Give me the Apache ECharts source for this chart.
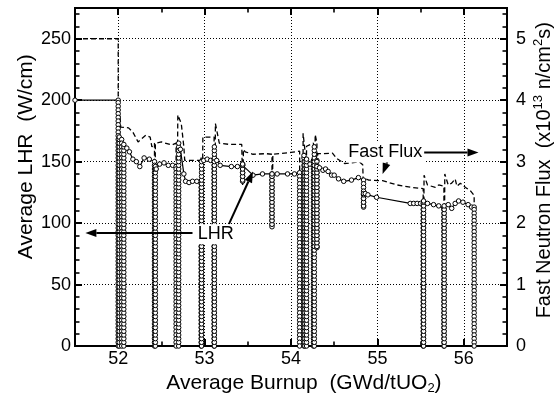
<!DOCTYPE html>
<html><head><meta charset="utf-8">
<script src="https://cdn.jsdelivr.net/npm/echarts@6/dist/echarts.min.js"></script>
<style>html,body{margin:0;padding:0;background:#fff}#c{width:554px;height:398px}</style>
</head><body><div id="c"></div>
<script>
// ---------------- DATA ----------------
const xTickValues = [52, 53, 54, 55, 56];
const lhrTickValues = [0, 50, 100, 150, 200, 250];
const fluxTickValues = [0, 1, 2, 3, 4, 5];

// LHR trace at power (burnup GWd/tUO2, LHR W/cm)
const traceBurnup = [51.50, 52.00, 52.04, 52.10, 52.13, 52.17, 52.21, 52.25, 52.30, 52.36, 52.42, 52.44, 52.48, 52.53, 52.58, 52.63, 52.67, 52.72, 52.76, 52.78, 52.82, 52.86, 52.91, 52.96, 52.99, 53.03, 53.07, 53.11, 53.14, 53.18, 53.31, 53.38, 53.44, 53.56, 53.67, 53.78, 53.84, 53.96, 54.04, 54.10, 54.16, 54.22, 54.26, 54.30, 54.33, 54.37, 54.40, 54.43, 54.47, 54.50, 54.55, 54.61, 54.70, 54.78, 54.84, 54.86, 54.89, 54.99, 55.38, 55.42, 55.46, 55.50, 55.53, 55.58, 55.65, 55.71, 55.77, 55.82, 55.86, 55.90, 55.94, 55.99, 56.05, 56.09, 56.12];
const traceLHR = [200, 200, 168, 161, 158, 152, 150, 146, 153, 152, 150, 144, 148, 149, 147, 147, 146, 160, 140, 134, 133, 134, 134, 132, 151, 152, 151, 152, 151, 147, 146, 146, 148, 139, 140, 140, 140, 140, 140, 141, 150, 148, 151, 151, 145, 143, 144, 142, 139, 139, 136, 134, 135, 137, 135, 124, 123, 121, 116, 116, 116, 116, 116, 116, 115, 114, 112, 115, 112, 116, 118, 117, 115, 113, 113];

// power ramps (shutdowns / reductions): burnup where LHR goes down, burnup where it comes back, lowest LHR, LHR reached on return
const stripDown = [52.00, 52.04, 52.42, 52.67, 52.96, 53.11, 53.44, 53.78, 54.10, 54.16, 54.26, 54.30, 54.84, 55.53, 55.77, 56.12];
const stripUp   = [52.012, 52.065, 52.43, 52.70, 52.965, 53.113, 53.44, 53.78, 54.15, 54.18, 54.27, 54.30, 54.84, 55.535, 55.773, null];
const stripLow  = [0, 0, 0, 0, 0, 0, 134, 97, 0, 0, 0, 80, 113, 0, 0, 0];
const stripBack = [170, 164, 146, 165, 150, 162, 148, 140, 155, 152, 162, 146, 124, 118, 114, null];
// LHR levels recorded during the ramps (W/cm)
const rampLevels = [0, 3, 6, 9, 12, 15, 18, 21, 24, 27, 30, 33, 36, 39, 42, 45, 48, 51, 54, 57, 60, 63, 66, 69, 72, 75, 78, 81, 84, 87, 90, 93, 96, 99, 102, 105, 108, 111, 114, 117, 120, 123, 126, 129, 132, 135, 138, 141, 144, 147, 150, 153, 156, 159, 162, 165, 168, 171, 174, 177, 180, 183, 186, 189, 192, 195, 198];

// Fast neutron flux (x10^13 n/cm2s)
const fluxBurnup = [51.50, 52.00, 52.00, 52.02, 52.02, 52.03, 52.12, 52.17, 52.23, 52.32, 52.37, 52.39, 52.42, 52.42, 52.43, 52.43, 52.50, 52.62, 52.67, 52.67, 52.69, 52.69, 52.73, 52.76, 52.77, 52.95, 52.96, 52.96, 52.97, 52.98, 53.06, 53.11, 53.11, 53.125, 53.125, 53.17, 53.29, 53.43, 53.44, 53.45, 53.47, 53.56, 53.71, 53.78, 53.78, 53.79, 54.00, 54.10, 54.10, 54.14, 54.14, 54.16, 54.17, 54.18, 54.26, 54.26, 54.28, 54.28, 54.30, 54.30, 54.31, 54.38, 54.48, 54.53, 54.62, 54.70, 54.79, 54.83, 54.84, 54.85, 54.90, 55.06, 55.23, 55.40, 55.53, 55.53, 55.54, 55.54, 55.58, 55.67, 55.71, 55.77, 55.77, 55.78, 55.78, 55.82, 55.86, 55.90, 55.92, 55.96, 56.02, 56.08, 56.12, 56.12];
const fluxValue = [5.00, 5.00, 0, 0, 3.76, 3.56, 3.55, 3.48, 3.32, 3.43, 3.40, 3.24, 3.30, 0, 0, 3.30, 3.32, 3.27, 3.30, 0, 0, 3.76, 3.62, 3.24, 3.02, 3.02, 3.08, 0, 0, 3.40, 3.40, 3.40, 0, 0, 3.62, 3.30, 3.28, 3.28, 2.62, 3.20, 3.16, 3.12, 3.13, 3.12, 2.00, 3.12, 3.15, 3.17, 0, 0, 3.46, 3.20, 0, 3.25, 3.30, 0, 0, 3.44, 3.30, 1.70, 3.13, 3.13, 3.14, 3.05, 2.97, 2.98, 3.00, 2.95, 2.50, 2.73, 2.70, 2.69, 2.62, 2.58, 2.56, 0, 0, 2.78, 2.62, 2.58, 2.62, 2.60, 0, 0, 2.80, 2.62, 2.65, 2.72, 2.60, 2.65, 2.58, 2.52, 2.45, 0];

// ---------------- BUILD SERIES ----------------
const lhrData = [];
for (let i = 0; i < traceBurnup.length; i++) {
  const b = traceBurnup[i], v = traceLHR[i];
  lhrData.push([b, v]);
  for (let k = 0; k < stripDown.length; k++) {
    if (stripDown[k] !== b) continue;
    const low = stripLow[k];
    rampLevels.filter(L => L < v && L > low).reverse().forEach(L => lhrData.push([b, L]));
    lhrData.push([b, low]);
    if (stripUp[k] == null) continue;
    const u = stripUp[k], back = stripBack[k];
    if (u !== b) lhrData.push([u, low]);
    rampLevels.filter(L => L > low && L < back).forEach(L => lhrData.push([u, L]));
    lhrData.push([u, back]);
  }
}
const fluxData = fluxBurnup.map((b, i) => [b, fluxValue[i]]);

// ---------------- OPTION ----------------
const FONT = '"Liberation Sans", Arial, Helvetica, sans-serif';
const black = '#000';
const TICK = '#000';
function gridLine() { return {show: true, lineStyle: {color: '#000', width: 1, type: [1, 2]}}; }
function majorTick() { return {show: true, inside: true, length: 7, lineStyle: {color: TICK, width: 2}}; }
function minorTick() { return {show: true, inside: true, length: 4.5, lineStyle: {color: TICK, width: 1.6}}; }
function frameLine() { return {show: true, onZero: false, lineStyle: {color: black, width: 2}}; }

const option = {
  animation: false,
  grid: {left: 75, right: 47, top: 8, bottom: 52, outerBoundsMode: 'none'},
  xAxis: [
    {
      type: 'value', min: 51.5, max: 56.5, position: 'bottom',
      axisLine: frameLine(),
      axisTick: Object.assign(majorTick(), {customValues: xTickValues}),
      axisLabel: {customValues: xTickValues, fontFamily: FONT, fontSize: 18, color: black, margin: 4},
      splitLine: gridLine()
    },
    {
      type: 'value', min: 51.5, max: 56.5, interval: 0.5, position: 'bottom',
      axisLine: frameLine(), axisTick: minorTick(), axisLabel: {show: false}, splitLine: {show: false}
    },
    {
      type: 'value', min: 51.5, max: 56.5, position: 'top',
      axisLine: frameLine(),
      axisTick: Object.assign(majorTick(), {customValues: xTickValues}),
      axisLabel: {show: false}, splitLine: {show: false}
    },
    {
      type: 'value', min: 51.5, max: 56.5, interval: 0.5, position: 'top',
      axisLine: frameLine(), axisTick: minorTick(), axisLabel: {show: false}, splitLine: {show: false}
    }
  ],
  yAxis: [
    {
      type: 'value', min: 0, max: 275, interval: 50, position: 'left',
      axisLine: frameLine(), axisTick: majorTick(),
      axisLabel: {showMaxLabel: false, fontFamily: FONT, fontSize: 18, color: black, margin: 4},
      splitLine: gridLine()
    },
    {
      type: 'value', min: 0, max: 275, interval: 10, position: 'left',
      axisLine: frameLine(), axisTick: minorTick(), axisLabel: {show: false}, splitLine: {show: false}
    },
    {
      type: 'value', min: 0, max: 5.5, interval: 1, position: 'right',
      axisLine: frameLine(), axisTick: majorTick(),
      axisLabel: {showMaxLabel: false, fontFamily: FONT, fontSize: 18, color: black, margin: 9},
      splitLine: {show: false}
    },
    {
      type: 'value', min: 0, max: 5.5, interval: 0.2, position: 'right',
      axisLine: frameLine(), axisTick: minorTick(), axisLabel: {show: false}, splitLine: {show: false}
    }
  ],
  series: [
    {
      name: 'Fast Flux', type: 'line', xAxisIndex: 0, yAxisIndex: 2,
      data: fluxData, showSymbol: false, symbol: 'none',
      lineStyle: {color: black, width: 1.3, type: [5, 3]}
    },
    {
      name: 'LHR', type: 'line', xAxisIndex: 0, yAxisIndex: 0,
      data: lhrData, symbol: 'circle', symbolSize: 4.5, showSymbol: true, showAllSymbol: true,
      lineStyle: {color: black, width: 1.2},
      itemStyle: {color: '#fff', borderColor: black, borderWidth: 1}
    }
  ]
};

const chart = echarts.init(document.getElementById('c'), null, {renderer: 'canvas'});
chart.setOption(option);

// ---------------- TITLES & ANNOTATIONS ----------------
function px(p) { return chart.convertToPixel({xAxisIndex: 0, yAxisIndex: 0}, p); }
function arrow(from, to) {
  const a = px(from), b = px(to);
  const dx = b[0] - a[0], dy = b[1] - a[1], L = Math.hypot(dx, dy);
  const ux = dx / L, uy = dy / L, hl = 11, hw = 4;
  const base = [b[0] - ux * hl, b[1] - uy * hl];
  return [
    {type: 'line', z: 100, shape: {x1: a[0], y1: a[1], x2: base[0], y2: base[1]}, style: {stroke: black, lineWidth: 2}},
    {type: 'polygon', z: 100, shape: {points: [b, [base[0] - uy * hw, base[1] + ux * hw], [base[0] + uy * hw, base[1] - ux * hw]]}, style: {fill: black}}
  ];
}
function label(text, at) {
  const p = px(at);
  return {type: 'text', z: 101, x: p[0], y: p[1], style: {text: text, font: '18px ' + FONT, fill: black, align: 'center', verticalAlign: 'middle', backgroundColor: '#fff', padding: [1, 2]}};
}
const gridRect = chart.getModel().getComponent('grid', 0).coordinateSystem.getRect();
const titles = [
  {type: 'text', z: 50, x: gridRect.x + gridRect.width * 0.53, y: gridRect.y + gridRect.height + 37,
   style: {text: '{a|Average Burnup  (GWd/tUO}{s|2}{a|)}', fill: black, align: 'center', verticalAlign: 'middle',
     rich: {a: {font: '21px ' + FONT, fill: black, lineHeight: 24},
            s: {font: '13px ' + FONT, fill: black, lineHeight: 8, verticalAlign: 'bottom'}}}},
  {type: 'text', z: 50, x: gridRect.x - 49, y: gridRect.y + gridRect.height * 0.44, rotation: Math.PI / 2,
   style: {text: 'Average LHR  (W/cm)', font: '21px ' + FONT, fill: black, align: 'center', verticalAlign: 'middle'}},
  {type: 'text', z: 50, x: gridRect.x + gridRect.width + 37, y: gridRect.y + gridRect.height * 0.48, rotation: Math.PI / 2,
   style: {text: '{a|Fast Neutron Flux  (x10}{p|13}{a| n/cm}{p|2}{a|s)}', fill: black, align: 'center', verticalAlign: 'middle',
     rich: {a: {font: '20px ' + FONT, fill: black, lineHeight: 24},
            p: {font: '13px ' + FONT, fill: black, lineHeight: 12, verticalAlign: 'top'}}}}
];
const graphics = [].concat(
  titles,
  arrow([52.86, 92], [51.62, 92]),
  arrow([53.28, 99], [53.56, 142]),
  arrow([55.48, 157.5], [56.17, 157.5]),
  arrow([55.13, 153], [55.06, 140]),
  [label('LHR', [53.13, 91]), label('Fast Flux', [55.09, 157.5])]
);
chart.setOption({graphic: graphics});
</script></body></html>
